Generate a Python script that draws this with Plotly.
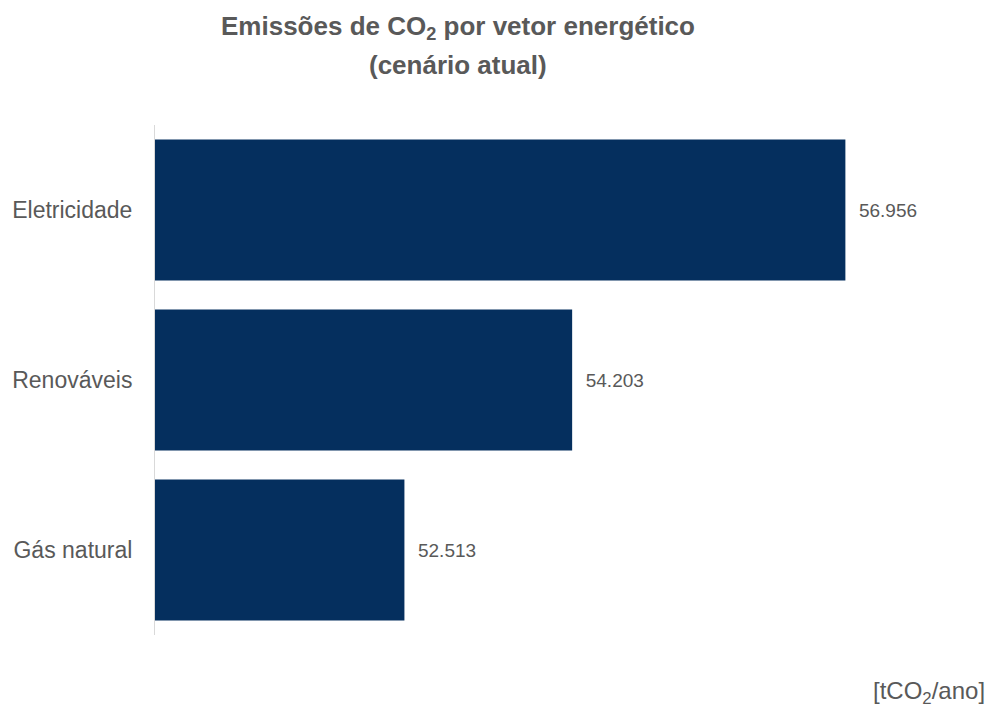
import plotly.graph_objects as go

# Emissões por vetor energético (tCO2/ano)
categorias = ["Eletricidade", "Renováveis", "Gás natural"]
emissoes = [56956, 54203, 52513]

titulo_l1 = "<b>Emissões de CO<sub>2</sub> por vetor energético</b>"
titulo_l2 = "<b>(cenário atual)</b>"
unidade = "[tCO<sub>2</sub>/ano]"

cor_barra = "#052f5e"
cor_texto = "#595959"
fonte = "Liberation Sans, Arial, sans-serif"

# plot area: 155..949 px horizontally, 125..635 px vertically
L, R, T, B = 155, 949, 125, 635
W, H = 991, 716


def px_x(p):
    return (p - L) / (R - L)


def px_y(p):
    return (B - p) / (B - T)


fig = go.Figure(
    go.Bar(
        x=emissoes,
        y=categorias,
        orientation="h",
        marker=dict(color=cor_barra, line=dict(width=0)),
        texttemplate="\u00a0\u00a0%{x:,.0f}",
        textposition="outside",
        textfont=dict(family=fonte, size=19, color=cor_texto),
        cliponaxis=False,
    )
)

fig.update_layout(
    width=W,
    height=H,
    margin=dict(l=L, r=W - R, t=T, b=H - B, autoexpand=False),
    paper_bgcolor="white",
    plot_bgcolor="white",
    separators=",.",
    bargap=0.17,
    showlegend=False,
    xaxis=dict(
        range=[50000, 58000],
        visible=False,
        showgrid=False,
        zeroline=False,
        automargin=False,
    ),
    yaxis=dict(
        categoryorder="array",
        categoryarray=categorias,
        autorange="reversed",
        automargin=False,
        showline=True,
        linecolor="#d9d9d9",
        linewidth=1,
        ticks="",
        ticklabelstandoff=17,
        tickfont=dict(family=fonte, size=23, color=cor_texto),
        showgrid=False,
    ),
    annotations=[
        dict(
            text=titulo_l1,
            x=px_x(458), y=px_y(27),
            xref="paper", yref="paper",
            xanchor="center", yanchor="middle",
            showarrow=False,
            font=dict(family=fonte, size=26, color=cor_texto),
        ),
        dict(
            text=titulo_l2,
            x=px_x(458), y=px_y(65),
            xref="paper", yref="paper",
            xanchor="center", yanchor="middle",
            showarrow=False,
            font=dict(family=fonte, size=26, color=cor_texto),
        ),
        dict(
            text=unidade,
            x=px_x(987), y=px_y(692),
            xref="paper", yref="paper",
            xanchor="right", yanchor="middle",
            showarrow=False,
            font=dict(family=fonte, size=24, color=cor_texto),
        ),
    ],
)

fig.write_html("out.html")
